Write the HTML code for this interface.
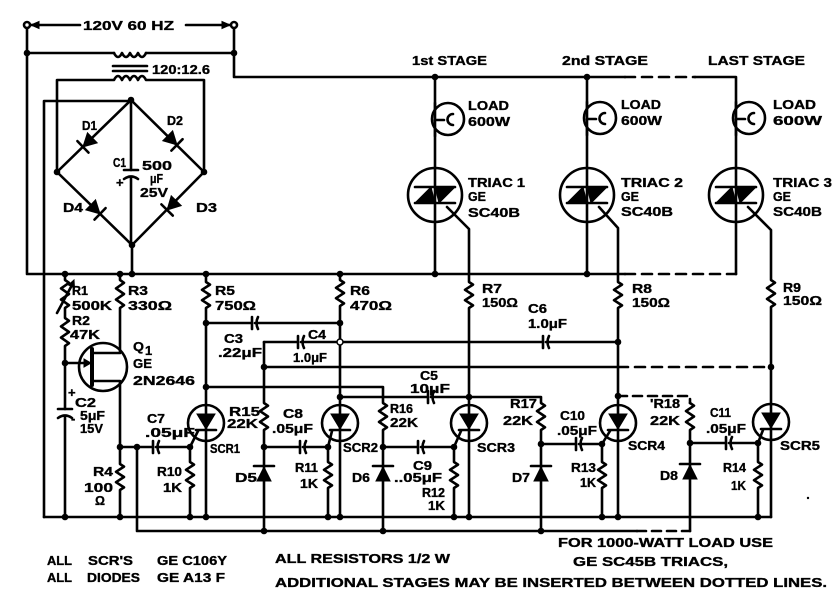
<!DOCTYPE html>
<html><head><meta charset="utf-8">
<style>
html,body{margin:0;padding:0;background:#fff;}
svg{display:block;}
text{font-family:"Liberation Sans",Arial,sans-serif;font-weight:bold;fill:#000;font-size:13px;stroke:#000;stroke-width:0.35px;}
</style></head>
<body>
<svg width="833" height="600" viewBox="0 0 833 600" xmlns="http://www.w3.org/2000/svg">
<g fill="none" stroke="#000" stroke-width="2.6" stroke-linecap="round" stroke-linejoin="round">
<!-- top supply -->
<circle cx="27" cy="25" r="3" fill="#fff"/>
<circle cx="234" cy="25" r="3" fill="#fff"/>
<path d="M31 25 H80 M186 25 H230"/>
<path d="M27 28 V274 H625"/>
<path d="M27 53 H114 M146 53 H234"/>
<path d="M114 53 q4 8 8 0 q4 8 8 0 q4 8 8 0 q4 8 8 0"/>
<path d="M113 66 H147 M113 71 H147"/>
<path d="M57 172 V80 H114 q4 -8 8 0 q4 -8 8 0 q4 -8 8 0 q4 -8 8 0 H204 V172"/>
<path d="M234 28 V77 H625"/>
<path d="M625 77 H695" stroke-dasharray="10 7"/>
<path d="M695 77 H736 V274"/>
<path d="M625 274 H736" stroke-dasharray="10 7"/>
<!-- bridge -->
<path d="M131 100 L57 172 L132 245 L204 172 Z"/>
<path d="M44 517 V101 H131"/>
<path d="M131 100 V170 M131 178 V245 M132 245 V274"/>
<path d="M124 170 H138"/>
<path d="M124 179 Q131 174 138 179"/>
<!-- stage 1 -->
<path d="M435 77 V274"/>
<circle cx="448" cy="119" r="16" fill="#fff"/>
<path d="M435 103 V136"/>
<path d="M453 114 a5.5 5.5 0 1 0 0 11 M435 120 H444"/>
<circle cx="435" cy="195" r="27"/>
<path d="M415 187 H455 M415 203 H455"/>
<path d="M447 207 L469 229 V282 l4 2.6 l-8 5.2 l8 5.2 l-8 5.2 l8 5.2 l-4 2.6 V517"/>
<!-- stage 2 -->
<path d="M587 77 V274"/>
<circle cx="600" cy="118" r="16" fill="#fff"/>
<path d="M587 102 V135"/>
<path d="M605 113 a5.5 5.5 0 1 0 0 11 M587 119 H596"/>
<circle cx="587" cy="195" r="27"/>
<path d="M567 187 H607 M567 203 H607"/>
<path d="M599 207 L618 228 V282 l4 2.6 l-8 5.2 l8 5.2 l-8 5.2 l8 5.2 l-4 2.6 V517"/>
<!-- stage 3 -->
<circle cx="749" cy="118" r="16" fill="#fff"/>
<path d="M736 102 V135"/>
<path d="M754 113 a5.5 5.5 0 1 0 0 11 M736 119 H745"/>
<circle cx="736" cy="195" r="27"/>
<path d="M716 187 H756 M716 203 H756"/>
<path d="M748 207 L771 230 V280 l4 2.7 l-8 5.4 l8 5.4 l-8 5.4 l8 5.4 l-4 2.7 V517"/>
<!-- R1 R2 C2 -->
<path d="M65 274 V280 l4 2.8 l-8 5.6 l8 5.6 l-8 5.6 l8 5.6 l-4 2.8 V318 l4 2.8 l-8 5.6 l8 5.6 l-8 5.6 l8 5.6 l-4 2.8 V409"/>
<path d="M57 313 L72 285"/>
<path d="M58 409 H72"/>
<path d="M58 418 Q65 413 72 418"/>
<path d="M65 416 V517"/>
<!-- UJT -->
<path d="M120 274 V280 l4 2.8 l-8 5.6 l8 5.6 l-8 5.6 l8 5.6 l-4 2.8 V353 H92"/>
<path d="M92 349 V385" stroke-width="4"/>
<path d="M92 381 H120 V464 l4 2.6 l-8 5.2 l8 5.2 l-8 5.2 l8 5.2 l-4 2.6 V517"/>
<circle cx="103" cy="367" r="24"/>
<path d="M65 363 H86"/>
<!-- C7 / SCR1 gate -->
<path d="M120 447 H153 M156 447 H190 L198 431"/>
<path d="M153 441 V453"/>
<path d="M159 441 Q156 447 159 453"/>
<path d="M137 447 V531 H637"/>
<path d="M637 531 H690" stroke-dasharray="9 6"/>
<path d="M190 447 V462 l4 2.6 l-8 5.2 l8 5.2 l-8 5.2 l8 5.2 l-4 2.6 V517"/>
<!-- SCR1 -->
<path d="M206 274 V282 l4 2.6 l-8 5.2 l8 5.2 l-8 5.2 l8 5.2 l-4 2.6 V517"/>
<circle cx="206" cy="423" r="18"/>
<path d="M196 430 H216"/>
<!-- R6 / SCR2 -->
<path d="M340 274 V280 l4 2.6 l-8 5.2 l8 5.2 l-8 5.2 l8 5.2 l-4 2.6 V517"/>
<circle cx="340" cy="423" r="18"/>
<path d="M330 430 H350"/>
<!-- SCR3 -->
<circle cx="469" cy="423" r="18"/>
<path d="M459 430 H479"/>
<!-- SCR4 -->
<circle cx="618" cy="423" r="18"/>
<path d="M608 430 H628"/>
<!-- SCR5 -->
<circle cx="771" cy="422" r="18"/>
<path d="M761 429 H781"/>
<!-- C3 line -->
<path d="M206 323 H252 M255 323 H340"/>
<path d="M252 317 V329"/>
<path d="M258 317 Q255 323 258 329"/>
<!-- C4 / C6 line -->
<path d="M264 342 H298 M301 342 H543 M546 342 H618"/>
<path d="M298 336 V348"/>
<path d="M304 336 Q301 342 304 348"/>
<path d="M543 336 V348"/>
<path d="M549 336 Q546 342 549 348"/>
<!-- R15 / D5 -->
<path d="M264 342 V403 l4 2.7 l-8 5.4 l8 5.4 l-8 5.4 l8 5.4 l-4 2.7 V531"/>
<!-- y367 -->
<path d="M264 367 H618"/>
<path d="M618 367 H771" stroke-dasharray="10 7"/>
<!-- y387 R16 D6 -->
<path d="M206 387 H383 V403 l4 2.7 l-8 5.4 l8 5.4 l-8 5.4 l8 5.4 l-4 2.7 V531"/>
<!-- y397 C5 R17 D7 -->
<path d="M340 397 H428 M431 397 H541 V403 l4 2.7 l-8 5.4 l8 5.4 l-8 5.4 l8 5.4 l-4 2.7 V531"/>
<path d="M428 391 V403"/>
<path d="M434 391 Q431 397 434 403"/>
<!-- dashed y396 to R18 D8 -->
<path d="M618 396 H690 V403" stroke-dasharray="9 6"/>
<path d="M690 403 l4 2.7 l-8 5.4 l8 5.4 l-8 5.4 l8 5.4 l-4 2.7 V531"/>
<!-- gate rows -->
<path d="M264 447 H300 M303 447 H328 L332 431"/>
<path d="M300 441 V453"/>
<path d="M306 441 Q303 447 306 453"/>
<path d="M328 447 V462 l4 2.6 l-8 5.2 l8 5.2 l-8 5.2 l8 5.2 l-4 2.6 V517"/>
<path d="M383 447 H418 M421 447 H454 L461 431"/>
<path d="M418 441 V453"/>
<path d="M424 441 Q421 447 424 453"/>
<path d="M454 447 V462 l4 2.6 l-8 5.2 l8 5.2 l-8 5.2 l8 5.2 l-4 2.6 V517"/>
<path d="M541 444 H576 M579 444 H602 L610 431"/>
<path d="M576 438 V450"/>
<path d="M582 438 Q579 444 582 450"/>
<path d="M602 444 V462 l4 2.6 l-8 5.2 l8 5.2 l-8 5.2 l8 5.2 l-4 2.6 V517"/>
<path d="M690 443 H726 M729 443 H758 L763 430"/>
<path d="M726 437 V449"/>
<path d="M732 437 Q729 443 732 449"/>
<path d="M758 443 V462 l4 2.6 l-8 5.2 l8 5.2 l-8 5.2 l8 5.2 l-4 2.6 V517"/>
<!-- bottom rail -->
<path d="M44 517 H771"/>
<!-- diode bars -->
<path d="M254 466 H274 M373 466 H393 M531 466 H551 M680 464 H700"/>
</g>

<g fill="#000" stroke="#000" stroke-width="1">
<polygon points="31,25 39,21.5 39,28.5"/>
<polygon points="230,25 222,21.5 222,28.5"/>
<polygon points="74,280 74.5,288 68.5,285"/>
<polygon points="91,363 84,359 84,367"/>
<polygon points="415,203 435,203 431,187"/>
<polygon points="435,187 455,187 439,203"/>
<polygon points="567,203 587,203 583,187"/>
<polygon points="587,187 607,187 591,203"/>
<polygon points="716,203 736,203 732,187"/>
<polygon points="736,187 756,187 740,203"/>
<polygon points="197,414 215,414 206,429"/>
<polygon points="331,414 349,414 340,429"/>
<polygon points="460,414 478,414 469,429"/>
<polygon points="609,414 627,414 618,429"/>
<polygon points="762,413 780,413 771,428"/>
<polygon points="257,481 271,481 264,467"/>
<polygon points="376,481 390,481 383,467"/>
<polygon points="534,481 548,481 541,467"/>
<polygon points="683,479 697,479 690,465"/>
</g>
<g fill="#000" stroke="#000" stroke-width="2.6" stroke-linecap="round">
<g transform="translate(88,142) rotate(136)"><polygon points="-6,-7 -6,7 7,0" stroke-width="1"/><path d="M7 -8 V8"/></g>
<g transform="translate(172,140) rotate(44.6)"><polygon points="-6,-7 -6,7 7,0" stroke-width="1"/><path d="M7 -8 V8"/></g>
<g transform="translate(95,209) rotate(44)"><polygon points="-6,-7 -6,7 7,0" stroke-width="1"/><path d="M7 -8 V8"/></g>
<g transform="translate(172,205) rotate(134.6)"><polygon points="-6,-7 -6,7 7,0" stroke-width="1"/><path d="M7 -8 V8"/></g>
</g>

<g fill="#000">
<circle cx="27" cy="53" r="3.3"/><circle cx="234" cy="53" r="3.3"/>
<circle cx="131" cy="100" r="3.3"/><circle cx="57" cy="172" r="3.3"/><circle cx="204" cy="172" r="3.3"/><circle cx="132" cy="245" r="3.3"/>
<circle cx="435" cy="77" r="3.3"/><circle cx="587" cy="77" r="3.3"/>
<circle cx="65" cy="274" r="3.3"/><circle cx="120" cy="274" r="3.3"/><circle cx="132" cy="274" r="3.3"/><circle cx="206" cy="274" r="3.3"/><circle cx="340" cy="274" r="3.3"/><circle cx="435" cy="274" r="3.3"/><circle cx="587" cy="274" r="3.3"/>
<circle cx="65" cy="363" r="3.3"/>
<circle cx="206" cy="323" r="3.3"/><circle cx="340" cy="323" r="3.3"/>
<circle cx="206" cy="387" r="3.3"/><circle cx="264" cy="367" r="3.3"/>
<circle cx="340" cy="397" r="3.3"/><circle cx="469" cy="397" r="3.3"/>
<circle cx="618" cy="342" r="3.3"/><circle cx="618" cy="396" r="3.3"/><circle cx="771" cy="367" r="3.3"/>
<circle cx="120" cy="447" r="3.3"/><circle cx="137" cy="447" r="3.3"/><circle cx="190" cy="447" r="3.3"/><circle cx="264" cy="447" r="3.3"/><circle cx="328" cy="447" r="3.3"/><circle cx="383" cy="447" r="3.3"/><circle cx="454" cy="447" r="3.3"/><circle cx="541" cy="444" r="3.3"/><circle cx="602" cy="444" r="3.3"/><circle cx="690" cy="443" r="3.3"/><circle cx="758" cy="443" r="3.3"/>
<circle cx="65" cy="517" r="3.3"/><circle cx="120" cy="517" r="3.3"/><circle cx="190" cy="517" r="3.3"/><circle cx="206" cy="517" r="3.3"/><circle cx="328" cy="517" r="3.3"/><circle cx="340" cy="517" r="3.3"/><circle cx="454" cy="517" r="3.3"/><circle cx="469" cy="517" r="3.3"/><circle cx="602" cy="517" r="3.3"/><circle cx="618" cy="517" r="3.3"/><circle cx="758" cy="517" r="3.3"/>
<circle cx="264" cy="531" r="3.3"/><circle cx="383" cy="531" r="3.3"/><circle cx="541" cy="531" r="3.3"/>
<circle cx="808" cy="498" r="1.2"/>
</g>
<circle cx="340" cy="342" r="3" fill="#fff" stroke="#000" stroke-width="1.5"/>

<g>
<text x="83" y="30" font-size="12" textLength="91" lengthAdjust="spacingAndGlyphs">120V 60 HZ</text>
<text x="152" y="74" font-size="12" textLength="58" lengthAdjust="spacingAndGlyphs">120:12.6</text>
<text x="82" y="130" font-size="12" textLength="15" lengthAdjust="spacingAndGlyphs">D1</text>
<text x="167" y="125" font-size="12" textLength="16" lengthAdjust="spacingAndGlyphs">D2</text>
<text x="113" y="167" font-size="12" textLength="13" lengthAdjust="spacingAndGlyphs">C1</text>
<text x="116" y="187" font-size="10">+</text>
<text x="142" y="170" font-size="12" textLength="30" lengthAdjust="spacingAndGlyphs">500</text>
<text x="150" y="183" font-size="12" textLength="13" lengthAdjust="spacingAndGlyphs">μF</text>
<text x="140" y="197" font-size="12" textLength="28" lengthAdjust="spacingAndGlyphs">25V</text>
<text x="63" y="212" font-size="12" textLength="20" lengthAdjust="spacingAndGlyphs">D4</text>
<text x="196" y="212" font-size="12" textLength="21" lengthAdjust="spacingAndGlyphs">D3</text>

<text x="412" y="65" textLength="75" lengthAdjust="spacingAndGlyphs">1st STAGE</text>
<text x="562" y="65" textLength="86" lengthAdjust="spacingAndGlyphs">2nd STAGE</text>
<text x="708" y="65" textLength="97" lengthAdjust="spacingAndGlyphs">LAST STAGE</text>

<text x="468" y="110" textLength="41" lengthAdjust="spacingAndGlyphs">LOAD</text>
<text x="468" y="126" textLength="42" lengthAdjust="spacingAndGlyphs">600W</text>
<text x="621" y="109" textLength="40" lengthAdjust="spacingAndGlyphs">LOAD</text>
<text x="621" y="125" textLength="41" lengthAdjust="spacingAndGlyphs">600W</text>
<text x="773" y="109" textLength="43" lengthAdjust="spacingAndGlyphs">LOAD</text>
<text x="773" y="125" textLength="49" lengthAdjust="spacingAndGlyphs">600W</text>

<text x="468" y="187" textLength="57" lengthAdjust="spacingAndGlyphs">TRIAC 1</text>
<text x="468" y="201" textLength="18" lengthAdjust="spacingAndGlyphs">GE</text>
<text x="468" y="217" textLength="52" lengthAdjust="spacingAndGlyphs">SC40B</text>
<text x="621" y="187" textLength="62" lengthAdjust="spacingAndGlyphs">TRIAC 2</text>
<text x="621" y="201" textLength="18" lengthAdjust="spacingAndGlyphs">GE</text>
<text x="621" y="216" textLength="52" lengthAdjust="spacingAndGlyphs">SC40B</text>
<text x="773" y="187" textLength="59" lengthAdjust="spacingAndGlyphs">TRIAC 3</text>
<text x="773" y="201" textLength="18" lengthAdjust="spacingAndGlyphs">GE</text>
<text x="773" y="216" textLength="49" lengthAdjust="spacingAndGlyphs">SC40B</text>

<text x="72" y="295" textLength="16" lengthAdjust="spacingAndGlyphs">R1</text>
<text x="72" y="310" textLength="40" lengthAdjust="spacingAndGlyphs">500K</text>
<text x="72" y="325" textLength="18" lengthAdjust="spacingAndGlyphs">R2</text>
<text x="70" y="339" textLength="30" lengthAdjust="spacingAndGlyphs">47K</text>
<text x="128" y="295" textLength="20" lengthAdjust="spacingAndGlyphs">R3</text>
<text x="128" y="310" textLength="44" lengthAdjust="spacingAndGlyphs">330Ω</text>
<text x="133" y="351" textLength="11" lengthAdjust="spacingAndGlyphs">Q</text>
<text x="145" y="355" font-size="9">1</text>
<text x="133" y="368" textLength="19" lengthAdjust="spacingAndGlyphs">GE</text>
<text x="133" y="385" textLength="62" lengthAdjust="spacingAndGlyphs">2N2646</text>
<text x="215" y="295" textLength="20" lengthAdjust="spacingAndGlyphs">R5</text>
<text x="215" y="310" textLength="41" lengthAdjust="spacingAndGlyphs">750Ω</text>
<text x="350" y="295" textLength="20" lengthAdjust="spacingAndGlyphs">R6</text>
<text x="350" y="310" textLength="42" lengthAdjust="spacingAndGlyphs">470Ω</text>
<text x="482" y="293" textLength="20" lengthAdjust="spacingAndGlyphs">R7</text>
<text x="482" y="307" textLength="36" lengthAdjust="spacingAndGlyphs">150Ω</text>
<text x="632" y="293" textLength="20" lengthAdjust="spacingAndGlyphs">R8</text>
<text x="632" y="307" textLength="38" lengthAdjust="spacingAndGlyphs">150Ω</text>
<text x="783" y="292" textLength="18" lengthAdjust="spacingAndGlyphs">R9</text>
<text x="783" y="305" textLength="39" lengthAdjust="spacingAndGlyphs">150Ω</text>

<text x="224" y="343" textLength="19" lengthAdjust="spacingAndGlyphs">C3</text>
<text x="218" y="357" textLength="44" lengthAdjust="spacingAndGlyphs">.22μF</text>
<text x="308" y="339" textLength="18" lengthAdjust="spacingAndGlyphs">C4</text>
<text x="293" y="362" textLength="34" lengthAdjust="spacingAndGlyphs">1.0μF</text>
<text x="528" y="313" textLength="19" lengthAdjust="spacingAndGlyphs">C6</text>
<text x="528" y="328" textLength="39" lengthAdjust="spacingAndGlyphs">1.0μF</text>
<text x="420" y="380" textLength="18" lengthAdjust="spacingAndGlyphs">C5</text>
<text x="410" y="393" textLength="40" lengthAdjust="spacingAndGlyphs">10μF</text>

<text x="68" y="397" font-size="10">+</text>
<text x="75" y="407" textLength="21" lengthAdjust="spacingAndGlyphs">C2</text>
<text x="80" y="420" textLength="25" lengthAdjust="spacingAndGlyphs">5μF</text>
<text x="71" y="423" font-size="12">-</text>
<text x="80" y="433" textLength="23" lengthAdjust="spacingAndGlyphs">15V</text>
<text x="147" y="423" textLength="18" lengthAdjust="spacingAndGlyphs">C7</text>
<text x="145" y="437" textLength="50" lengthAdjust="spacingAndGlyphs">.05μF</text>

<text x="229" y="416" textLength="31" lengthAdjust="spacingAndGlyphs">R15</text>
<text x="227" y="428" textLength="31" lengthAdjust="spacingAndGlyphs">22K</text>
<text x="283" y="418" textLength="20" lengthAdjust="spacingAndGlyphs">C8</text>
<text x="272" y="433" textLength="41" lengthAdjust="spacingAndGlyphs">.05μF</text>
<text x="390" y="413" textLength="23" lengthAdjust="spacingAndGlyphs">R16</text>
<text x="390" y="427" textLength="28" lengthAdjust="spacingAndGlyphs">22K</text>
<text x="510" y="408" textLength="27" lengthAdjust="spacingAndGlyphs">R17</text>
<text x="503" y="425" textLength="30" lengthAdjust="spacingAndGlyphs">22K</text>
<text x="560" y="420" textLength="25" lengthAdjust="spacingAndGlyphs">C10</text>
<text x="557" y="435" textLength="40" lengthAdjust="spacingAndGlyphs">.05μF</text>
<text x="650" y="408" textLength="30" lengthAdjust="spacingAndGlyphs">'R18</text>
<text x="650" y="425" textLength="30" lengthAdjust="spacingAndGlyphs">22K</text>
<text x="710" y="417" textLength="21" lengthAdjust="spacingAndGlyphs">C11</text>
<text x="706" y="433" textLength="40" lengthAdjust="spacingAndGlyphs">.05μF</text>

<text x="210" y="453" textLength="30" lengthAdjust="spacingAndGlyphs">SCR1</text>
<text x="343" y="452" textLength="35" lengthAdjust="spacingAndGlyphs">SCR2</text>
<text x="477" y="452" textLength="38" lengthAdjust="spacingAndGlyphs">SCR3</text>
<text x="628" y="450" textLength="37" lengthAdjust="spacingAndGlyphs">SCR4</text>
<text x="780" y="450" textLength="40" lengthAdjust="spacingAndGlyphs">SCR5</text>

<text x="93" y="476" textLength="20" lengthAdjust="spacingAndGlyphs">R4</text>
<text x="84" y="492" textLength="29" lengthAdjust="spacingAndGlyphs">100</text>
<text x="95" y="505" textLength="10" lengthAdjust="spacingAndGlyphs">Ω</text>
<text x="157" y="476" textLength="25" lengthAdjust="spacingAndGlyphs">R10</text>
<text x="163" y="492" textLength="19" lengthAdjust="spacingAndGlyphs">1K</text>
<text x="235" y="482" textLength="22" lengthAdjust="spacingAndGlyphs">D5</text>
<text x="295" y="472" textLength="23" lengthAdjust="spacingAndGlyphs">R11</text>
<text x="300" y="488" textLength="18" lengthAdjust="spacingAndGlyphs">1K</text>
<text x="352" y="482" textLength="18" lengthAdjust="spacingAndGlyphs">D6</text>
<text x="413" y="470" textLength="19" lengthAdjust="spacingAndGlyphs">C9</text>
<text x="394" y="482" textLength="48" lengthAdjust="spacingAndGlyphs">..05μF</text>
<text x="422" y="497" textLength="23" lengthAdjust="spacingAndGlyphs">R12</text>
<text x="428" y="510" textLength="17" lengthAdjust="spacingAndGlyphs">1K</text>
<text x="512" y="482" textLength="18" lengthAdjust="spacingAndGlyphs">D7</text>
<text x="571" y="472" textLength="25" lengthAdjust="spacingAndGlyphs">R13</text>
<text x="580" y="487" textLength="16" lengthAdjust="spacingAndGlyphs">1K</text>
<text x="660" y="480" textLength="18" lengthAdjust="spacingAndGlyphs">D8</text>
<text x="723" y="472" textLength="23" lengthAdjust="spacingAndGlyphs">R14</text>
<text x="731" y="490" textLength="15" lengthAdjust="spacingAndGlyphs">1K</text>

<text x="47" y="565" font-size="16" textLength="25" lengthAdjust="spacingAndGlyphs">ALL</text>
<text x="88" y="565" font-size="16" textLength="45" lengthAdjust="spacingAndGlyphs">SCR'S</text>
<text x="157" y="565" font-size="16" textLength="70" lengthAdjust="spacingAndGlyphs">GE C106Y</text>
<text x="47" y="582" font-size="16" textLength="25" lengthAdjust="spacingAndGlyphs">ALL</text>
<text x="87" y="582" font-size="16" textLength="53" lengthAdjust="spacingAndGlyphs">DIODES</text>
<text x="157" y="582" font-size="16" textLength="68" lengthAdjust="spacingAndGlyphs">GE A13 F</text>
<text x="275" y="563" font-size="16" textLength="175" lengthAdjust="spacingAndGlyphs">ALL RESISTORS 1/2 W</text>
<text x="275" y="587" font-size="16" textLength="552" lengthAdjust="spacingAndGlyphs">ADDITIONAL STAGES MAY BE INSERTED BETWEEN DOTTED LINES.</text>
<text x="558" y="547" font-size="15" textLength="215" lengthAdjust="spacingAndGlyphs">FOR 1000-WATT LOAD USE</text>
<text x="573" y="566" font-size="15" textLength="155" lengthAdjust="spacingAndGlyphs">GE SC45B TRIACS,</text>
</g>
</svg>
</body></html>
